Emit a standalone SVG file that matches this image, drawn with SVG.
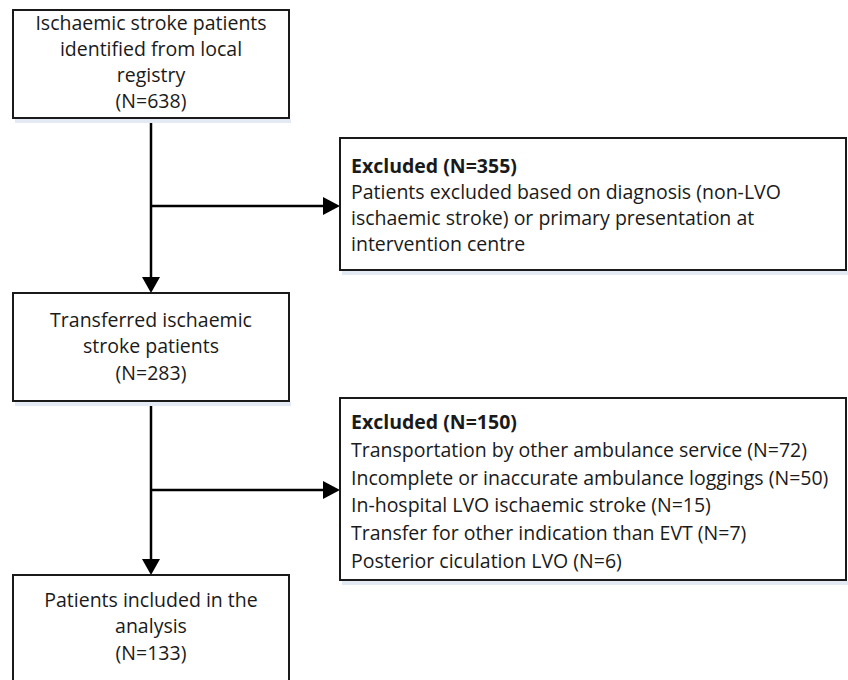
<svg xmlns="http://www.w3.org/2000/svg" width="848" height="680" viewBox="0 0 848 680">
<defs>
<style>
.box{fill:#fff;stroke:#1a1a1a;stroke-width:2}
.sh{fill:#e3eaf3}
.t{font-family:"Open Sans","Noto Sans","DejaVu Sans",sans-serif;font-size:19.5px;fill:#1a1a1a}
.c{text-anchor:middle}
.b{font-weight:bold}
.ln{stroke:#000;stroke-width:2.5;fill:none}
</style>
</defs>
<rect width="848" height="680" fill="#fff"/>
<g id="connectors">
<line class="ln" x1="151" y1="118" x2="151" y2="277"/>
<path d="M142,277 L160,277 L151,293 Z" fill="#000"/>
<line class="ln" x1="151" y1="206" x2="324" y2="206"/>
<path d="M323,197 L340,206 L323,215 Z" fill="#000"/>
<line class="ln" x1="151" y1="401" x2="151" y2="559"/>
<path d="M142,559 L160,559 L151,575 Z" fill="#000"/>
<line class="ln" x1="151" y1="490" x2="324" y2="490"/>
<path d="M323,481 L340,490 L323,499 Z" fill="#000"/>
</g>
<g id="n1">
<rect class="sh" x="15" y="119" width="276" height="4"/>
<rect class="box" x="13" y="10" width="276" height="108"/>
<text class="t c" x="151" y="30">Ischaemic stroke patients</text>
<text class="t c" x="151" y="56">identified from local</text>
<text class="t c" x="151" y="82">registry</text>
<text class="t c" x="151" y="108">(N=638)</text>
</g>
<g id="n2">
<rect class="sh" x="342" y="271" width="506" height="4"/>
<rect class="box" x="340" y="138" width="506" height="132"/>
<text class="t b" x="351" y="173">Excluded (N=355)</text>
<text class="t" x="351" y="199">Patients excluded based on diagnosis (non-LVO</text>
<text class="t" x="351" y="225">ischaemic stroke) or primary presentation at</text>
<text class="t" x="351" y="251">intervention centre</text>
</g>
<g id="n3">
<rect class="sh" x="15" y="402" width="276" height="4"/>
<rect class="box" x="13" y="293" width="276" height="108"/>
<text class="t c" x="151" y="327">Transferred ischaemic</text>
<text class="t c" x="151" y="353">stroke patients</text>
<text class="t c" x="151" y="380">(N=283)</text>
</g>
<g id="n4">
<rect class="sh" x="342" y="581" width="506" height="4"/>
<rect class="box" x="340" y="398" width="506" height="182"/>
<text class="t b" x="351" y="429">Excluded (N=150)</text>
<text class="t" x="351" y="457">Transportation by other ambulance service (N=72)</text>
<text class="t" x="351" y="485">Incomplete or inaccurate ambulance loggings (N=50)</text>
<text class="t" x="351" y="512">In-hospital LVO ischaemic stroke (N=15)</text>
<text class="t" x="351" y="540">Transfer for other indication than EVT (N=7)</text>
<text class="t" x="351" y="568">Posterior ciculation LVO (N=6)</text>
</g>
<g id="n5">
<rect class="box" x="13" y="575" width="276" height="120"/>
<text class="t c" x="151" y="607">Patients included in the</text>
<text class="t c" x="151" y="633">analysis</text>
<text class="t c" x="151" y="660">(N=133)</text>
</g>
</svg>
